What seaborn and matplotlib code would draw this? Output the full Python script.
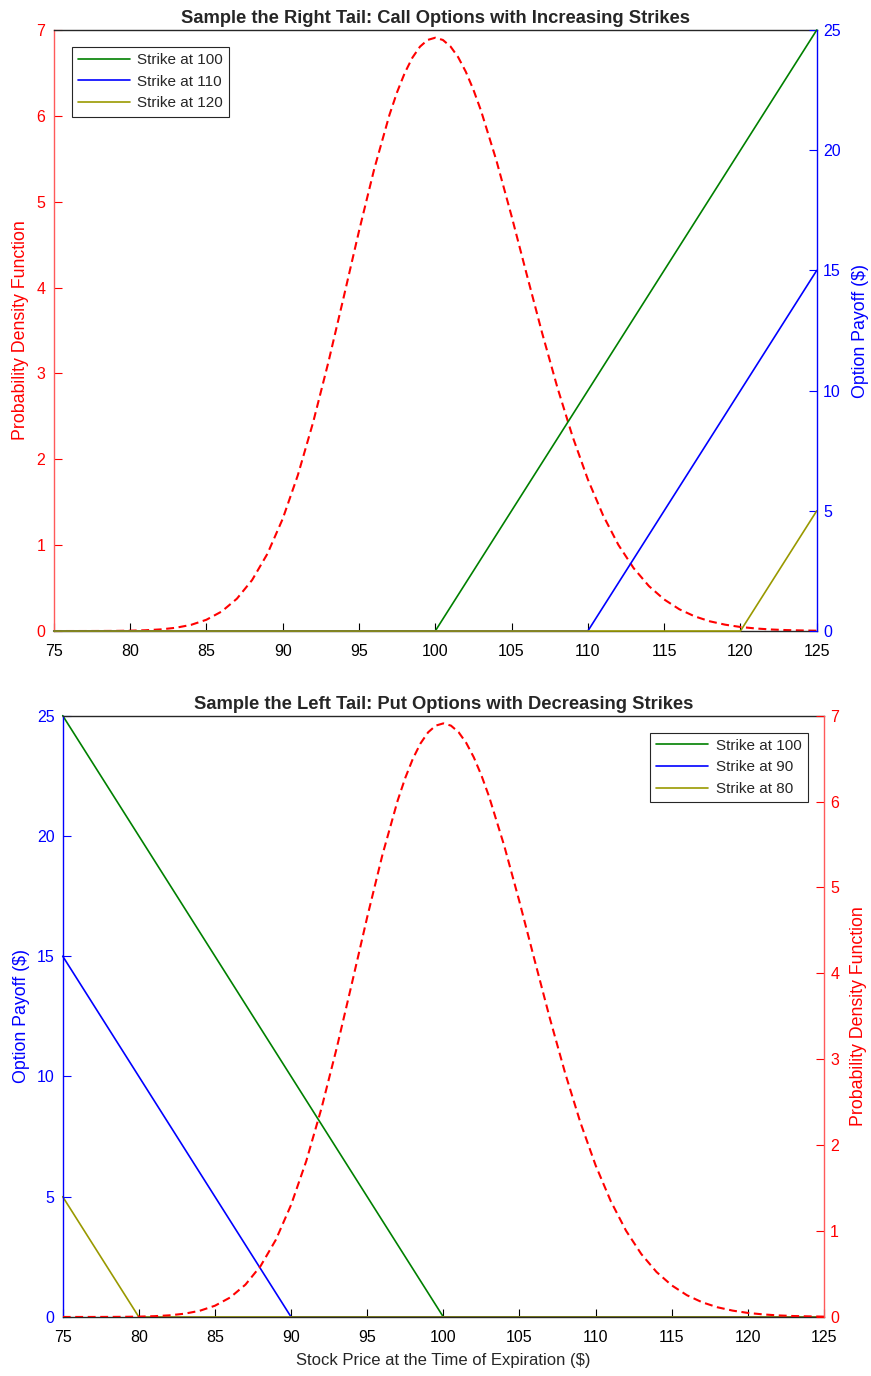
import seaborn as sns
import matplotlib.pyplot as plt
import pandas as pd

# density of the terminal stock price
price = [75, 76, 77, 78, 79, 80, 81, 82, 83, 84, 85, 86, 87, 88, 89, 90, 91,
         92, 93, 94, 95, 96, 97, 97.5, 98, 98.5, 99, 99.5, 100, 100.5, 101,
         101.5, 102, 102.5, 103, 104, 105, 106, 107, 108, 109, 110, 111, 112,
         113, 114, 115, 116, 117, 118, 119, 120, 121, 122, 123, 124, 125]
pdf = [0.0, 0.0001, 0.0002, 0.0007, 0.0016, 0.004, 0.009, 0.019, 0.038, 0.072,
       0.131, 0.227, 0.376, 0.594, 0.899, 1.305, 1.817, 2.432, 3.133, 3.888,
       4.655, 5.380, 6.012, 6.276, 6.499, 6.677, 6.806, 6.884, 6.91, 6.884,
       6.808, 6.684, 6.515, 6.305, 6.060, 5.485, 4.834, 4.150, 3.474, 2.839,
       2.265, 1.766, 1.347, 1.004, 0.733, 0.524, 0.368, 0.253, 0.171, 0.113,
       0.074, 0.047, 0.030, 0.018, 0.011, 0.007, 0.004]

# call payoffs (right tail)
call_prices = [75, 100, 110, 120, 125]
call_100 = [0, 0, 10, 20, 25]
call_110 = [0, 0, 0, 10, 15]
call_120 = [0, 0, 0, 0, 5]

# put payoffs (left tail)
put_prices = [75, 80, 90, 100, 125]
put_100 = [25, 20, 10, 0, 0]
put_90 = [15, 10, 0, 0, 0]
put_80 = [5, 0, 0, 0, 0]

x_ticks = [75, 80, 85, 90, 95, 100, 105, 110, 115, 120, 125]

sns.set_style("white")
plt.rcParams['font.family'] = ['Liberation Sans', 'DejaVu Sans']
plt.rcParams['font.size'] = 11

GREEN = '#008000'
BLUE = '#0000ff'
OLIVE = '#999900'
RED = '#ff0000'
RED_SPINE = '#ff5a5a'
DASH = (0, (3.8, 2.2))
TICK_FS = 11.5
LABEL_FS = 12.8
TITLE_FS = 13.2

fig = plt.figure(figsize=(8.71, 13.76), dpi=100)


def style_axis(ax, side, color, spine_color):
    ax.set_ylim(0, 7 if color == RED else 25)
    ax.tick_params(axis='y', colors=color, direction='in', length=5.5,
                   labelsize=TICK_FS, pad=6 if side == 'left' else 4.5,
                   left=(side == 'left'), right=(side == 'right'),
                   labelleft=(side == 'left'), labelright=(side == 'right'))
    ax.yaxis.set_ticks_position(side)
    ax.yaxis.set_label_position(side)
    for s in ax.spines.values():
        s.set_visible(False)
    ax.spines[side].set_visible(True)
    ax.spines[side].set_color(spine_color)
    ax.spines[side].set_linewidth(1.0)


def style_x(ax):
    ax.set_xlim(75, 125)
    ax.set_xticks(x_ticks)
    ax.tick_params(axis='x', direction='in', length=5.5, labelsize=TICK_FS,
                   pad=9.5, bottom=True, top=False, colors='black')
    for s in ['top', 'bottom']:
        ax.spines[s].set_visible(True)
        ax.spines[s].set_color('#262626')
        ax.spines[s].set_linewidth(1.0)


def add_legend(ax, loc, anchor):
    leg = ax.legend(loc=loc, bbox_to_anchor=anchor, borderaxespad=0,
                    fancybox=False, edgecolor='#262626', framealpha=1,
                    fontsize=11, handlelength=3.4, handletextpad=0.5,
                    labelspacing=0.5, borderpad=0.4)
    leg.get_frame().set_linewidth(0.8)


# ---------- top: calls ----------
ax1 = fig.add_axes([0.0617, 0.5414, 0.876, 0.4368])
sns.lineplot(x=price, y=pdf, ax=ax1, color=RED, linewidth=1.5, linestyle=DASH)
style_axis(ax1, 'left', RED, RED_SPINE)
style_x(ax1)
ax1.set_ylabel('Probability Density Function', color=RED, fontsize=LABEL_FS,
               labelpad=5)
ax1.set_title('Sample the Right Tail: Call Options with Increasing Strikes',
              fontsize=TITLE_FS, fontweight='bold', pad=5)

ax2 = ax1.twinx()
sns.lineplot(x=call_prices, y=call_100, ax=ax2, color=GREEN, linewidth=1.2,
             label='Strike at 100', clip_on=False)
sns.lineplot(x=call_prices, y=call_110, ax=ax2, color=BLUE, linewidth=1.2,
             label='Strike at 110', clip_on=False)
sns.lineplot(x=call_prices, y=call_120, ax=ax2, color=OLIVE, linewidth=1.2,
             label='Strike at 120', clip_on=False)
style_axis(ax2, 'right', BLUE, BLUE)
ax2.set_xlim(75, 125)
ax2.set_yticks([0, 5, 10, 15, 20, 25])
ax2.set_ylabel('Option Payoff ($)', color=BLUE, fontsize=LABEL_FS, labelpad=8)
add_legend(ax2, 'upper left', (0.0236, 0.9717))

# ---------- bottom: puts ----------
ax3 = fig.add_axes([0.072, 0.0429, 0.874, 0.437])
sns.lineplot(x=put_prices, y=put_100, ax=ax3, color=GREEN, linewidth=1.2,
             label='Strike at 100', clip_on=False)
sns.lineplot(x=put_prices, y=put_90, ax=ax3, color=BLUE, linewidth=1.2,
             label='Strike at 90', clip_on=False)
sns.lineplot(x=put_prices, y=put_80, ax=ax3, color=OLIVE, linewidth=1.2,
             label='Strike at 80', clip_on=False)
style_axis(ax3, 'left', BLUE, BLUE)
style_x(ax3)
ax3.set_yticks([0, 5, 10, 15, 20, 25])
ax3.set_ylabel('Option Payoff ($)', color=BLUE, fontsize=LABEL_FS, labelpad=5)
ax3.set_xlabel('Stock Price at the Time of Expiration ($)', fontsize=12,
               labelpad=6)
ax3.set_title('Sample the Left Tail: Put Options with Decreasing Strikes',
              fontsize=TITLE_FS, fontweight='bold', pad=5)
add_legend(ax3, 'upper right', (0.9786, 0.9717))

ax4 = ax3.twinx()
sns.lineplot(x=price, y=pdf, ax=ax4, color=RED, linewidth=1.5, linestyle=DASH)
style_axis(ax4, 'right', RED, RED_SPINE)
ax4.set_xlim(75, 125)
ax4.set_ylabel('Probability Density Function', color=RED, fontsize=LABEL_FS,
               labelpad=8)

plt.savefig('out.png', dpi=100)
